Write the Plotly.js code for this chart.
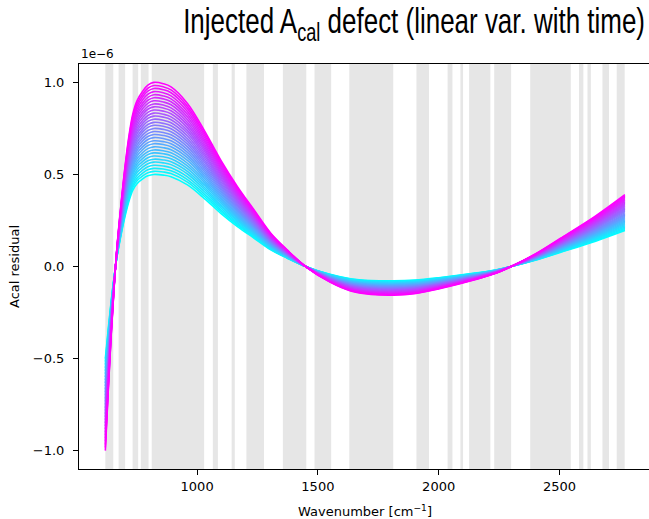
<!DOCTYPE html>
<html>
<head>
<meta charset="utf-8">
<script src="https://cdn.plot.ly/plotly-3.0.1.min.js"></script>
<style>
html,body{margin:0;padding:0;overflow:hidden;background:#fff;}
#chart{width:655px;height:519px;}
</style>
</head>
<body>
<div id="chart"></div>
<script>
// Wavenumber samples [cm^-1] and the largest (final-time) residual curve, in units of 1e-6
const wavenumber = [620, 632, 644, 656, 668, 685, 702, 719, 734, 751, 776, 796, 821, 860, 892, 960, 1029, 1098, 1167, 1236, 1305, 1373, 1449, 1550, 1635, 1720, 1814, 1900, 2000, 2150, 2230, 2300, 2400, 2503, 2650, 2771];
const finalCurve = [-1.0, -0.68, -0.38, -0.12, 0.10, 0.34, 0.55, 0.72, 0.83, 0.90, 0.955, 0.985, 1.0, 0.993, 0.976, 0.886, 0.741, 0.578, 0.434, 0.307, 0.181, 0.09, 0.0, -0.085, -0.133, -0.152, -0.156, -0.148, -0.122, -0.072, -0.040, 0.0, 0.068, 0.152, 0.275, 0.39];
// Relative amplitude of each time step (linear variation with time)
const amplitudes = [0.500, 0.517, 0.533, 0.550, 0.567, 0.583, 0.600, 0.617, 0.633, 0.650, 0.667, 0.683, 0.700, 0.717, 0.733, 0.750, 0.767, 0.783, 0.800, 0.817, 0.833, 0.850, 0.867, 0.883, 0.900, 0.917, 0.933, 0.950, 0.967, 0.983, 1.000];
// Masked spectral bands (grey spans) [cm^-1]
const bandStart = [620, 675, 733, 767, 812, 1065, 1143, 1204, 1355, 1486, 1630, 1908, 2037, 2090, 2126, 2230, 2379, 2581, 2616, 2678, 2737];
const bandEnd   = [653, 702, 756, 799, 1029, 1086, 1156, 1277, 1452, 1555, 1812, 1960, 2057, 2101, 2214, 2300, 2547, 2599, 2630, 2705, 2770];
const yTickVals = [-1.0e-6, -0.5e-6, 0.0, 0.5e-6, 1.0e-6];
const yTickText = ['\u22121.0', '\u22120.5', '0.0', '0.5', '1.0'];
const xTickVals = [1000, 1500, 2000, 2500];

const n = amplitudes.length;
const traces = amplitudes.map((a, i) => {
  const t = n > 1 ? i / (n - 1) : 1;
  const col = 'rgb(' + Math.round(255 * t) + ',' + Math.round(255 * (1 - t)) + ',255)';
  return {
    x: wavenumber,
    y: finalCurve.map(v => v * a * 1e-6),
    type: 'scatter',
    mode: 'lines',
    line: {color: col, width: 1.6, shape: 'spline', smoothing: 1},
    hoverinfo: 'skip',
    showlegend: false
  };
});

const shapes = bandStart.map((s, i) => ({
  type: 'rect', xref: 'x', yref: 'paper',
  x0: s, x1: bandEnd[i], y0: 0, y1: 1,
  fillcolor: '#e6e6e6', line: {width: 0}, layer: 'below'
}));

const tickFont = {family: 'DejaVu Sans', size: 13, color: '#000'};
const layout = {
  width: 655, height: 519,
  margin: {l: 79, r: 4, t: 64, b: 50},
  paper_bgcolor: '#fff', plot_bgcolor: '#fff',
  title: {
    text: 'Injected A<sub>cal</sub> defect (linear var. with time)',
    font: {family: 'Liberation Sans, Arial', size: 36, color: '#000'},
    xref: 'container', x: 645 / 655, xanchor: 'right',
    yref: 'container', y: 1 - 8 / 519, yanchor: 'top'
  },
  xaxis: {
    range: [511, 2879],
    tickvals: xTickVals, ticktext: xTickVals.map(String),
    ticks: 'outside', ticklen: 5, tickcolor: '#000', tickwidth: 1,
    showline: true, linecolor: '#000', linewidth: 1, mirror: true,
    showgrid: false, zeroline: false,
    tickfont: tickFont,
    title: {text: 'Wavenumber [cm<sup>\u22121</sup>]', font: tickFont, standoff: 14}
  },
  yaxis: {
    range: [-1.1e-6, 1.1e-6],
    tickvals: yTickVals, ticktext: yTickText,
    ticks: 'outside', ticklen: 5, tickcolor: '#000', tickwidth: 1,
    ticklabelstandoff: 6,
    showline: true, linecolor: '#000', linewidth: 1, mirror: true,
    showgrid: false, zeroline: false,
    tickfont: tickFont,
    title: {text: 'Acal residual', font: tickFont, standoff: 10}
  },
  shapes: shapes,
  annotations: [{
    text: '1e\u22126', xref: 'paper', yref: 'paper', x: 0, y: 1,
    xanchor: 'left', yanchor: 'bottom', yshift: 1, showarrow: false,
    font: {family: 'DejaVu Sans', size: 12, color: '#000'}
  }]
};

Plotly.newPlot('chart', traces, layout, {displayModeBar: false, staticPlot: true}).then(() => {
  // Condense the title horizontally so it spans the same width as in the reference
  const g = document.querySelector('.g-gtitle');
  if (!g) return;
  const r = g.getBoundingClientRect();
  const targetRight = 645, targetWidth = 462;
  if (r.width > 0) {
    const s = targetWidth / r.width;
    const tx = targetRight - s * r.right;
    g.setAttribute('transform', 'translate(' + tx + ',0) scale(' + s + ',1)');
  }
});
</script>
</body>
</html>
